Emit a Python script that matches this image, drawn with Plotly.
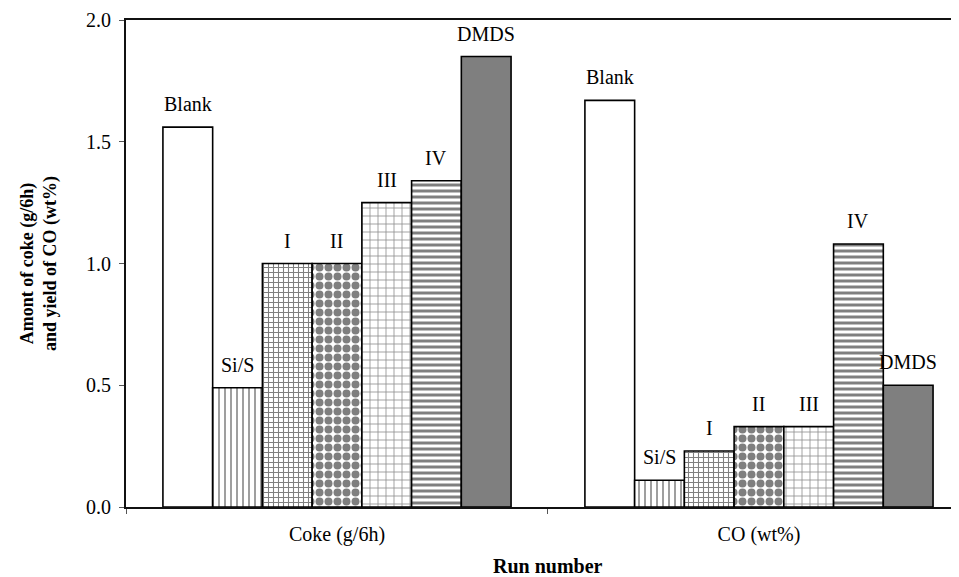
import plotly.graph_objects as go

# categories on the x axis
groups = ["Coke (g/6h)", "CO (wt%)"]

# runs (one bar per run in each group)
runs = ["Blank", "Si/S", "I", "II", "III", "IV", "DMDS"]

# values: [coke, CO]
blank = [1.56, 1.67]
sis = [0.49, 0.11]
run_i = [1.00, 0.23]
run_ii = [1.00, 0.33]
run_iii = [1.25, 0.33]
run_iv = [1.34, 1.08]
dmds = [1.85, 0.50]

values = [blank, sis, run_i, run_ii, run_iii, run_iv, dmds]

# fill style per run (approximating the hatch patterns of the original)
styles = {
    "Blank": dict(color="white", pattern=dict(shape="")),
    "Si/S": dict(color="white", pattern=dict(shape="|", size=6, solidity=0.25, fgcolor="black")),
    "I": dict(color="white", pattern=dict(shape="+", size=5, solidity=0.38, fgcolor="black")),
    "II": dict(color="white", pattern=dict(shape=".", size=9, solidity=0.62, fgcolor="black")),
    "III": dict(color="white", pattern=dict(shape="+", size=8, solidity=0.2, fgcolor="#222")),
    "IV": dict(color="white", pattern=dict(shape="-", size=6, solidity=0.5, fgcolor="black")),
    "DMDS": dict(color="#7f7f7f", pattern=dict(shape="")),
}

SERIF = "Liberation Serif, Times New Roman, serif"
BARGAP = 0.175

fig = go.Figure()
for name, vals in zip(runs, values):
    st = styles[name]
    fig.add_bar(
        x=groups, y=vals, name=name,
        marker=dict(color=st["color"], pattern=st["pattern"],
                    line=dict(color="black", width=1.6)),
    )

# run labels above each bar (offset inside the group as plotly lays it out)
w = (1 - BARGAP) / len(runs)
for i, (name, vals) in enumerate(zip(runs, values)):
    for g, v in enumerate(vals):
        fig.add_annotation(
            x=g - (1 - BARGAP) / 2 + (i + 0.5) * w, y=v, xref="x", yref="y",
            text=name, showarrow=False, xanchor="center", yanchor="bottom",
            yshift=10, font=dict(family=SERIF, size=20, color="black"),
        )

fig.update_layout(
    width=951, height=569,
    margin=dict(l=118, r=0, t=12, b=70),
    paper_bgcolor="white", plot_bgcolor="white",
    barmode="group", bargap=BARGAP, bargroupgap=0,
    showlegend=False,
    font=dict(family=SERIF, size=20, color="black"),
)
fig.update_xaxes(
    range=[-0.5, 1.474], showline=True, linecolor="#111", linewidth=2,
    mirror=True, ticks="outside", tickson="boundaries", ticklen=5,
    tickcolor="#555", showgrid=False, tickfont=dict(size=20),
    ticklabelstandoff=8,
)
fig.update_yaxes(
    range=[0, 2], tickvals=[0, 0.5, 1.0, 1.5, 2.0],
    ticktext=["0.0", "0.5", "1.0", "1.5", "2.0"],
    showline=True, linecolor="#111", linewidth=2, ticks="outside", ticklen=5,
    tickcolor="#555", showgrid=False, zeroline=False, tickfont=dict(size=20),
    ticklabelstandoff=4,
)

fig.add_annotation(
    text="<b>Amont of coke (g/6h)<br>and yield of CO (wt%)</b>",
    xref="paper", yref="paper", x=-0.105, y=0.5, xanchor="center",
    yanchor="middle", textangle=-90, showarrow=False,
    font=dict(family=SERIF, size=18),
)
fig.add_annotation(
    text="<b>Run number</b>", xref="x", yref="paper", x=0.5, y=-0.121,
    xanchor="center", yanchor="middle", showarrow=False,
    font=dict(family=SERIF, size=20),
)

fig.write_html("out.html")
